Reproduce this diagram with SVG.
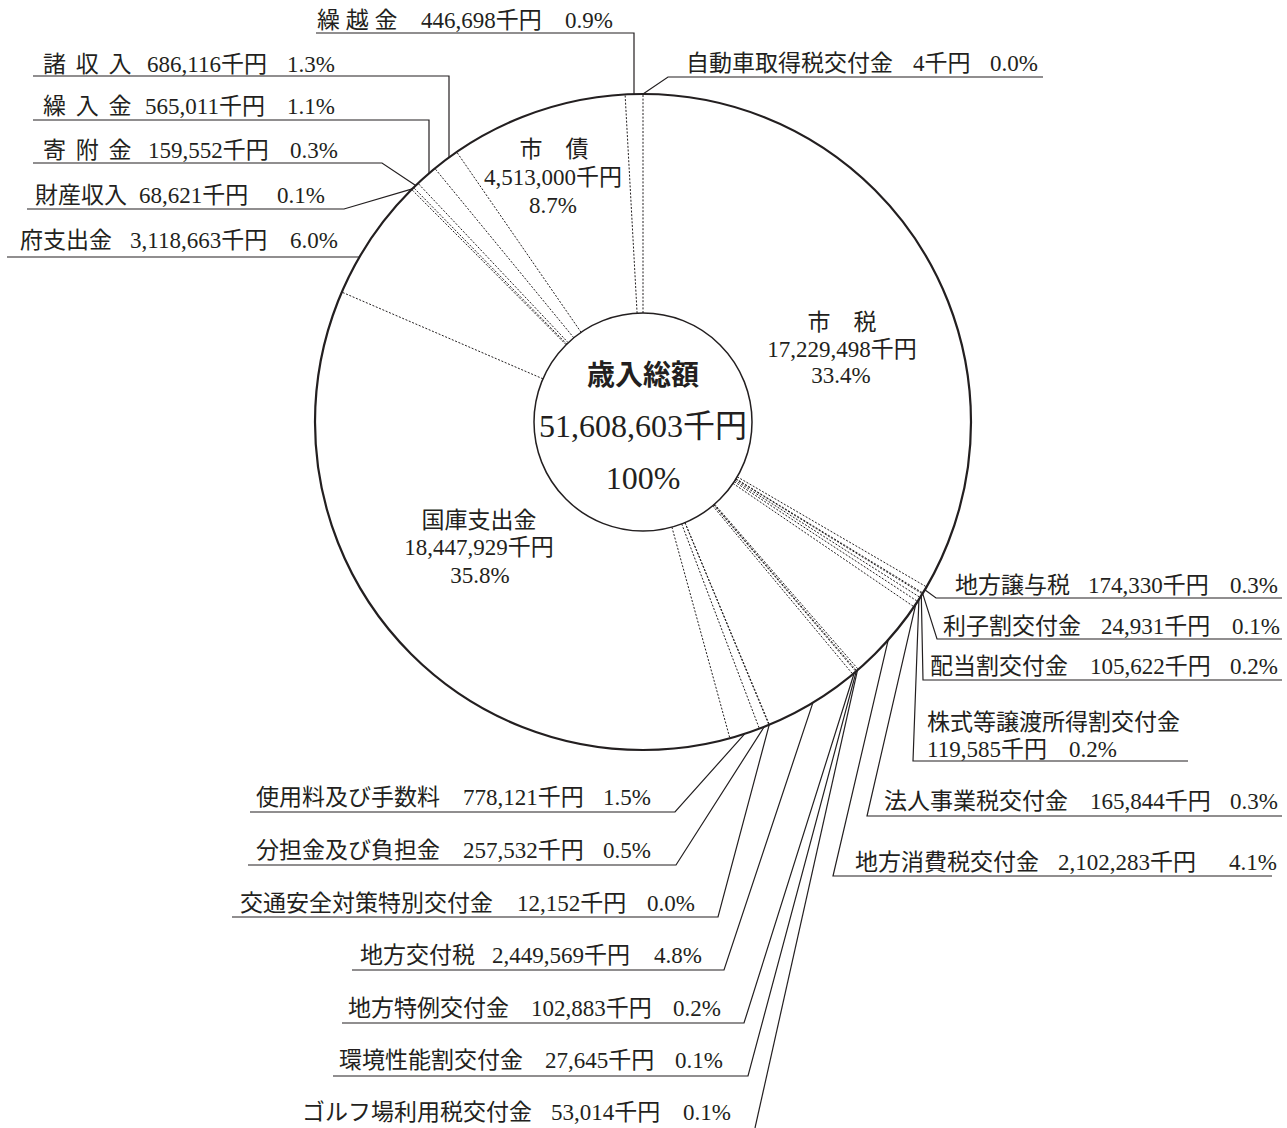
<svg xmlns="http://www.w3.org/2000/svg" width="1287" height="1128" viewBox="0 0 1287 1128">
<style>
.t{font-family:'Liberation Serif','Noto Sans CJK JP',serif;font-size:23px;fill:#231f20}
.c{text-anchor:middle}
.ln{stroke:#231f20;stroke-width:1.2;fill:none}
.dot{stroke:#231f20;stroke-width:1;stroke-dasharray:2 1.6;fill:none}
.ring{stroke:#231f20;fill:none}
</style>
<rect width="1287" height="1128" fill="#fff"/>
<g id="pie">
<circle class="ring" cx="643" cy="422" r="328" stroke-width="2.2"/>
<circle class="ring" cx="643" cy="422" r="109" stroke-width="1.5"/>
</g>
<g id="connectors">
<g id="dividers">
<line class="dot" x1="643" y1="313" x2="643" y2="94"/>
<line class="dot" x1="737.2" y1="476.8" x2="926.5" y2="586.9"/>
<line class="dot" x1="736.0" y1="478.8" x2="922.9" y2="593.0"/>
<line class="dot" x1="735.8" y1="479.1" x2="922.4" y2="593.9"/>
<line class="dot" x1="735.1" y1="480.3" x2="920.1" y2="597.4"/>
<line class="dot" x1="734.2" y1="481.6" x2="917.6" y2="601.4"/>
<line class="dot" x1="733.0" y1="483.4" x2="914.0" y2="606.8"/>
<line class="dot" x1="714.6" y1="504.2" x2="858.3" y2="669.4"/>
<line class="dot" x1="714.0" y1="504.7" x2="856.7" y2="670.8"/>
<line class="dot" x1="713.8" y1="504.9" x2="855.9" y2="671.5"/>
<line class="dot" x1="712.7" y1="505.8" x2="852.8" y2="674.2"/>
<line class="dot" x1="685.0" y1="522.6" x2="769.4" y2="724.7"/>
<line class="dot" x1="684.9" y1="522.6" x2="768.9" y2="724.9"/>
<line class="dot" x1="681.7" y1="523.9" x2="759.4" y2="728.7"/>
<line class="dot" x1="671.9" y1="527.1" x2="729.9" y2="738.3"/>
<line class="dot" x1="542.9" y1="378.8" x2="341.8" y2="292.1"/>
<line class="dot" x1="566.1" y1="344.7" x2="411.7" y2="189.5"/>
<line class="dot" x1="566.8" y1="344.1" x2="413.6" y2="187.6"/>
<line class="dot" x1="568.2" y1="342.7" x2="418.0" y2="183.3"/>
<line class="dot" x1="573.8" y1="337.8" x2="434.9" y2="168.5"/>
<line class="dot" x1="581.1" y1="332.3" x2="456.7" y2="152.0"/>
<line class="dot" x1="637.1" y1="313.2" x2="625.1" y2="94.5"/>
</g>
<g id="leaders">
<polyline class="ln" points="316,33 634,33 634,94"/>
<polyline class="ln" points="1043,77 668,77 643,94"/>
<polyline class="ln" points="33,76 449,76 449,157.5"/>
<polyline class="ln" points="33,120 429,120 429,173.4"/>
<polyline class="ln" points="33,163 382,163 415.7,185.5"/>
<polyline class="ln" points="27,209 344,209 412.3,188.8"/>
<polyline class="ln" points="7,257 359.5,257"/>
<polyline class="ln" points="1282,598 936,598 924.8,589.8"/>
<polyline class="ln" points="1282,639 937,639 922.6,593.4"/>
<polyline class="ln" points="1282,680 923,680 921.3,595.5"/>
<polyline class="ln" points="1188,761 913,761 918.9,599.4"/>
<polyline class="ln" points="1282,816 867,816 915.8,604.1"/>
<polyline class="ln" points="1272,876 833,876 888.2,639.9"/>
<polyline class="ln" points="250,812 675,812 744.7,733.8"/>
<polyline class="ln" points="248,865 676,865 764.2,726.8"/>
<polyline class="ln" points="232,917 718,917 769.2,724.8"/>
<polyline class="ln" points="352,970 724,970 812.9,702.6"/>
<polyline class="ln" points="342,1023 744,1023 854.3,672.8"/>
<polyline class="ln" points="333,1076 748,1076 856.3,671.1"/>
<polyline class="ln" points="755,1128 857.5,670.1"/>
</g>
</g>
<g id="center">
<text class="t c" x="643" y="385" style="font-size:28px;font-weight:bold">歳入総額</text>
<text class="t c" x="643" y="437" style="font-size:32px">51,608,603千円</text>
<text class="t c" x="643" y="489" style="font-size:32px">100%</text>
</g>
<g id="n-shizei"><text class="t c" x="842" y="330">市　税</text><text class="t c" x="842" y="357">17,229,498千円</text><text class="t c" x="841" y="383">33.4%</text></g>
<g id="n-shisai"><text class="t c" x="554" y="157">市　債</text><text class="t c" x="553" y="185">4,513,000千円</text><text class="t c" x="553" y="213">8.7%</text></g>
<g id="n-kokko"><text class="t c" x="479" y="528">国庫支出金</text><text class="t c" x="479" y="555">18,447,929千円</text><text class="t c" x="480" y="583">35.8%</text></g>
<g id="n-kurikoshi"><text class="t" y="28"><tspan x="317">繰 越 金</tspan><tspan x="421">446,698千円</tspan><tspan x="565">0.9%</tspan></text></g>
<g id="n-jidosha"><text class="t" y="71"><tspan x="686">自動車取得税交付金</tspan><tspan x="913">4千円</tspan><tspan x="990">0.0%</tspan></text></g>
<g id="n-shoshunyu"><text class="t" y="71.5" word-spacing="4"><tspan x="43">諸 収 入</tspan><tspan x="147">686,116千円</tspan><tspan x="287">1.3%</tspan></text></g>
<g id="n-kuriire"><text class="t" y="114" word-spacing="4"><tspan x="43">繰 入 金</tspan><tspan x="145">565,011千円</tspan><tspan x="287">1.1%</tspan></text></g>
<g id="n-kifu"><text class="t" y="158" word-spacing="4"><tspan x="43">寄 附 金</tspan><tspan x="148">159,552千円</tspan><tspan x="290">0.3%</tspan></text></g>
<g id="n-zaisan"><text class="t" y="203"><tspan x="35">財産収入</tspan><tspan x="139">68,621千円</tspan><tspan x="277">0.1%</tspan></text></g>
<g id="n-fu"><text class="t" y="248"><tspan x="20">府支出金</tspan><tspan x="130">3,118,663千円</tspan><tspan x="290">6.0%</tspan></text></g>
<g id="n-joyo"><text class="t" y="593"><tspan x="955">地方譲与税</tspan><tspan x="1088">174,330千円</tspan><tspan x="1230">0.3%</tspan></text></g>
<g id="n-rishi"><text class="t" y="634"><tspan x="943">利子割交付金</tspan><tspan x="1101">24,931千円</tspan><tspan x="1232">0.1%</tspan></text></g>
<g id="n-haito"><text class="t" y="674"><tspan x="930">配当割交付金</tspan><tspan x="1090">105,622千円</tspan><tspan x="1230">0.2%</tspan></text></g>
<g id="n-kabushiki"><text class="t" y="730" x="927">株式等譲渡所得割交付金</text><text class="t" y="756.5"><tspan x="927">119,585千円</tspan><tspan x="1069">0.2%</tspan></text></g>
<g id="n-hojin"><text class="t" y="809"><tspan x="884">法人事業税交付金</tspan><tspan x="1090">165,844千円</tspan><tspan x="1230">0.3%</tspan></text></g>
<g id="n-shohi"><text class="t" y="870"><tspan x="855">地方消費税交付金</tspan><tspan x="1058">2,102,283千円</tspan><tspan x="1229">4.1%</tspan></text></g>
<g id="n-shiyo"><text class="t" y="805"><tspan x="256">使用料及び手数料</tspan><tspan x="463">778,121千円</tspan><tspan x="603">1.5%</tspan></text></g>
<g id="n-buntan"><text class="t" y="858"><tspan x="256">分担金及び負担金</tspan><tspan x="463">257,532千円</tspan><tspan x="603">0.5%</tspan></text></g>
<g id="n-kotsu"><text class="t" y="910.5"><tspan x="240">交通安全対策特別交付金</tspan><tspan x="517">12,152千円</tspan><tspan x="647">0.0%</tspan></text></g>
<g id="n-kofuzei"><text class="t" y="963"><tspan x="360">地方交付税</tspan><tspan x="492">2,449,569千円</tspan><tspan x="654">4.8%</tspan></text></g>
<g id="n-tokurei"><text class="t" y="1016"><tspan x="348">地方特例交付金</tspan><tspan x="531">102,883千円</tspan><tspan x="673">0.2%</tspan></text></g>
<g id="n-kankyo"><text class="t" y="1068"><tspan x="339">環境性能割交付金</tspan><tspan x="545">27,645千円</tspan><tspan x="675">0.1%</tspan></text></g>
<g id="n-golf"><text class="t" y="1120"><tspan x="302">ゴルフ場利用税交付金</tspan><tspan x="551">53,014千円</tspan><tspan x="683">0.1%</tspan></text></g>
</svg>
